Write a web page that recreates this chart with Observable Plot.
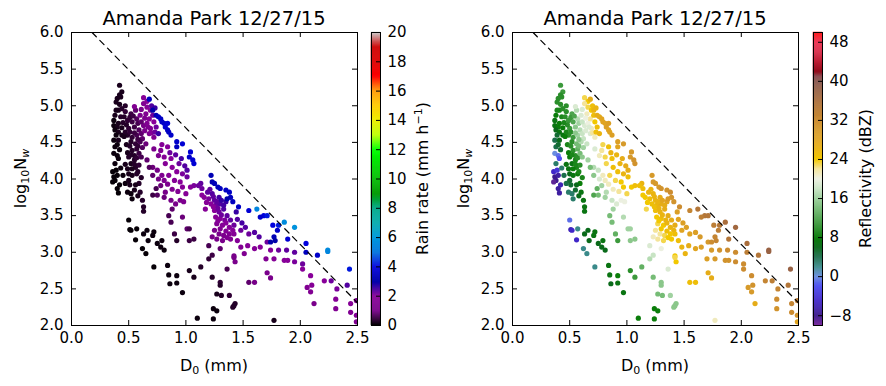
<!DOCTYPE html>
<html><head><meta charset="utf-8">
<script src="https://cdn.jsdelivr.net/npm/d3@7"></script>
<script src="https://cdn.jsdelivr.net/npm/@observablehq/plot@0.6"></script>
<style>
html,body{margin:0;padding:0;background:#fff;}
#fig{position:relative;width:886px;height:386px;background:#fff;overflow:hidden;font-family:"DejaVu Sans",sans-serif;}
#fig svg{position:absolute;top:0;overflow:visible;}
</style></head><body><div id="fig"></div>
<script>
// Each point: [D0 (mm), log10 Nw, rain rate (mm/h), reflectivity (dBZ)]
const leftColumn = [
[0.42,5.28,0.2,11],[0.44,5.19,0.2,11],[0.42,5.15,0.2,10],[0.40,5.10,0.2,10],[0.43,5.12,0.2,10],
[0.39,5.05,0.2,10],[0.42,5.02,0.2,10],
[0.39,4.94,0.2,9],[0.41,4.94,0.2,9],[0.44,4.96,0.3,10],[0.38,4.87,0.2,8],[0.43,4.85,0.3,9],
[0.37,4.80,0.1,7],[0.44,4.70,0.2,8],[0.44,4.60,0.2,7],
[0.37,4.73,0.1,7],[0.40,4.71,0.2,8],[0.41,4.76,0.2,8],[0.38,4.67,0.1,6],[0.41,4.64,0.2,7],
[0.39,4.60,0.1,5],[0.37,4.53,0.1,4],[0.41,4.53,0.2,6],[0.38,4.44,0.1,4],[0.40,4.47,0.1,5],[0.42,4.40,0.1,5],
[0.37,4.35,0.1,0],[0.40,4.32,0.1,-1],[0.41,4.28,0.1,-2],[0.38,4.21,0.1,3],
[0.36,4.10,0.05,-5],[0.39,4.12,0.05,-4],[0.43,4.15,0.1,3],[0.42,3.92,0.05,-6],
[0.37,4.03,0.05,-8],[0.40,4.05,0.05,-7],[0.38,3.98,0.05,-8],[0.36,3.96,0.05,-9],
[0.40,3.87,0.05,-7],[0.41,3.81,0.05,-7],[0.47,3.94,0.1,4],[0.50,4.07,0.2,6],[0.49,4.14,0.2,7],[0.52,4.21,0.2,7]
];
const darkCluster = [
[0.47,4.92,0.4,10],[0.52,4.89,0.5,12],[0.56,4.94,0.8,17],[0.55,4.99,1.5,19],
[0.49,4.80,0.4,11],[0.53,4.78,0.5,12],[0.57,4.82,0.7,17],[0.60,4.87,1.2,19],
[0.50,4.69,0.4,11],[0.55,4.71,0.5,15],[0.59,4.67,0.7,17],[0.63,4.73,1.0,19],
[0.49,4.60,0.3,10],[0.53,4.57,0.4,11],[0.57,4.60,0.6,16],[0.62,4.55,0.8,18],
[0.52,4.51,0.3,10],[0.56,4.48,0.4,14],[0.60,4.51,0.6,17],[0.65,4.48,0.9,18],
[0.53,4.39,0.3,10],[0.57,4.41,0.4,13],[0.55,4.32,0.3,10],[0.59,4.35,0.5,14],
[0.50,4.30,0.3,8],[0.55,4.26,0.3,9],[0.56,4.16,0.3,9],[0.53,4.14,0.2,8],[0.59,4.19,0.4,10],
[0.50,3.98,0.2,5],[0.53,4.05,0.2,7],[0.57,4.07,0.3,8],
[0.49,3.82,0.1,3],[0.52,3.80,0.1,3],[0.55,3.85,0.2,5],[0.53,3.73,0.1,3],
[0.59,3.94,0.3,8],[0.60,3.82,0.3,7],[0.62,3.71,0.3,7],[0.63,3.62,0.3,7],[0.63,3.56,0.3,7],
[0.46,4.85,0.3,10],[0.48,4.74,0.3,10],[0.51,4.84,0.4,11],[0.54,4.86,0.5,12],[0.58,4.76,0.6,16],
[0.61,4.78,0.8,18],[0.47,4.64,0.3,9],[0.51,4.64,0.4,10],[0.55,4.63,0.5,15],[0.58,4.54,0.5,15],
[0.61,4.62,0.8,18],[0.48,4.47,0.2,9],[0.51,4.45,0.3,10],[0.58,4.45,0.4,14],[0.62,4.43,0.7,16],
[0.49,4.36,0.2,8],[0.52,4.33,0.3,9],[0.57,4.29,0.4,10],[0.61,4.30,0.6,15],[0.47,4.20,0.2,7],
[0.55,4.20,0.3,9],[0.58,4.10,0.3,9],[0.61,4.02,0.3,9],[0.51,3.92,0.2,5],[0.56,3.92,0.2,6],
[0.58,3.77,0.2,6],[0.45,4.05,0.1,4],[0.46,4.58,0.2,8],[0.45,4.77,0.3,9],[0.47,5.00,0.3,10]
];
const purpleTop = [
[0.63,5.11,1.8,23],[0.66,5.06,2.0,24],[0.63,5.03,1.6,22],
[0.66,4.98,1.8,23],[0.69,4.94,2.0,24],[0.65,4.89,1.6,21],
[0.68,4.82,1.8,22],[0.71,4.87,2.2,25],[0.72,4.78,2.0,24],
[0.66,4.76,1.5,20],[0.69,4.69,1.6,21],[0.74,4.71,2.2,25],
[0.68,4.62,1.4,19],[0.72,4.57,1.6,21],
[0.61,4.95,1.3,19],[0.64,4.83,1.4,20],[0.67,4.71,1.4,19],[0.70,4.63,1.7,22],[0.73,4.64,2.2,25],
[0.76,4.62,2.6,26],[0.64,4.66,1.2,19],[0.70,5.00,2.4,25],[0.73,4.97,2.6,26]
];
const blueTop = [
[0.68,5.09,3.4,27],[0.71,4.94,3.0,26],[0.74,4.87,3.2,27],[0.76,4.85,3.5,27],[0.78,4.82,3.5,28],
[0.79,4.78,3.6,28],[0.81,4.76,3.6,28],[0.82,4.71,3.8,29],[0.84,4.76,3.8,29],
[0.84,4.67,3.5,28],[0.85,4.64,3.5,28],[0.87,4.60,3.6,29],
[0.92,4.51,3.6,29],[0.97,4.48,3.8,30],[0.92,4.44,3.4,28],
[1.04,4.37,3.8,30],[1.03,4.30,3.6,30],[1.06,4.26,3.8,31],[1.07,4.21,3.8,31]
];
const purpleMid = [
[0.72,4.41,1.2,19],[0.78,4.39,1.6,22],[0.84,4.44,2.0,25],
[0.76,4.32,1.4,21],[0.81,4.30,1.8,23],[0.87,4.28,2.0,25],
[0.82,4.21,1.8,23],[0.88,4.16,2.0,25],[0.94,4.21,2.2,26],
[0.92,4.10,2.0,25],[0.97,4.07,2.1,26],[1.01,4.12,2.4,27],
[0.85,4.05,1.8,23],[0.90,3.98,1.8,23],[0.95,3.96,2.0,24],[1.01,4.03,2.2,25],
[0.81,3.98,1.4,21],[0.76,4.00,1.0,19],
[0.71,4.16,0.9,17],[0.71,4.05,0.8,15],[0.75,4.12,1.0,18],
[0.66,4.26,0.8,16],[0.68,4.16,0.7,14],
[0.74,3.87,0.6,13],[0.78,3.91,0.9,16],[0.82,3.82,1.0,17],
[0.71,3.78,0.5,12],[0.75,3.78,0.7,14],[0.81,3.75,0.9,16],
[0.87,3.71,1.0,18],[0.91,3.66,1.1,19],[0.95,3.71,1.3,20],[0.98,3.69,1.4,20],
[1.00,3.80,1.8,23],[1.04,3.89,2.0,24],[1.07,3.91,2.1,25],[1.13,3.94,2.3,26],
[0.88,3.59,0.8,16],[0.85,3.50,0.6,14],[0.87,3.41,0.6,14],
[0.97,3.48,0.9,17],[0.90,3.25,0.5,13],[1.01,3.32,0.8,16],
[0.79,4.47,1.8,23],[0.86,4.36,2.2,26],[0.91,4.33,2.3,26],[0.96,4.28,2.5,27],[0.99,4.18,2.4,27],
[0.79,4.05,1.4,21],[0.88,3.86,1.5,21],[0.93,3.83,1.6,22],[0.97,3.89,1.9,24],[0.84,3.93,1.4,21]
];
const purpleMass = [
[1.11,3.91,2.2,25],[1.14,3.87,2.2,25],[1.19,3.82,2.3,26],[1.23,3.80,2.4,26],
[1.16,3.75,2.0,24],[1.20,3.73,2.1,25],[1.25,3.71,2.3,26],[1.29,3.75,2.5,27],
[1.22,3.66,2.0,25],[1.26,3.64,2.2,26],[1.30,3.66,2.4,27],[1.35,3.69,2.6,28],
[1.17,3.59,1.8,23],[1.25,3.57,2.0,25],[1.29,3.55,2.2,26],[1.33,3.59,2.4,27],
[1.26,3.48,1.8,24],[1.30,3.46,2.0,25],[1.36,3.50,2.3,27],[1.39,3.44,2.3,27],
[1.27,3.39,1.6,23],[1.32,3.37,1.8,24],[1.38,3.34,2.0,26],[1.42,3.37,2.2,27],
[1.25,3.30,1.2,22],[1.29,3.25,1.2,22],[1.33,3.23,1.3,23],[1.38,3.25,1.5,24],
[1.23,3.21,1.0,21],[1.27,3.18,1.1,22],[1.32,3.16,1.2,23],[1.39,3.18,1.5,24],
[1.21,3.86,2.3,26],[1.24,3.76,2.3,26],[1.27,3.69,2.3,26],[1.31,3.71,2.6,28],[1.33,3.64,2.5,27],
[1.24,3.62,2.0,25],[1.28,3.60,2.2,26],[1.31,3.51,2.2,26],[1.34,3.44,2.1,26],[1.28,3.43,1.8,24],
[1.35,3.40,2.0,26],[1.30,3.32,1.6,24],[1.35,3.29,1.7,25],[1.41,3.30,2.0,26],[1.36,3.20,1.5,24],
[1.18,3.68,1.9,24],[1.14,3.78,2.0,24],[1.45,3.45,2.4,28],[1.49,3.40,2.5,29],[1.44,3.55,2.6,29],
[1.42,3.25,1.8,25],[1.45,3.16,1.8,25],[1.48,3.30,2.2,28],
[1.52,3.34,2.4,29],[1.55,3.25,2.2,28],[1.60,3.27,2.4,29],[1.64,3.21,2.4,30],
[1.48,3.07,1.6,26],[1.54,3.09,1.8,27],[1.60,3.05,1.8,28],[1.65,3.07,2.0,29],
[1.42,2.95,1.2,24],[1.51,2.98,1.5,26],[1.43,2.87,1.2,24],
[1.71,3.14,2.2,30],[1.74,3.03,2.0,30],[1.81,3.03,2.2,31],[1.86,2.89,2.0,31],
[1.89,2.89,2.0,31],[1.95,2.87,2.1,32],[2.02,2.84,2.2,32],[2.02,2.77,2.0,32],
[1.77,2.91,1.8,30],[1.70,2.91,1.6,29],
[2.06,2.52,1.6,30],[2.10,2.55,1.8,31],[2.09,2.46,1.6,30],[2.12,2.30,1.2,27],
[2.09,2.68,2.0,32],[2.21,2.61,2.0,33],[2.32,2.50,2.1,33],[2.31,2.36,1.8,32],[2.31,2.23,1.6,31],
[2.41,2.55,2.4,35],[2.44,2.30,1.8,33],[2.44,2.18,1.6,32],[2.49,2.05,1.4,28],[2.49,2.14,1.6,31],
[2.27,2.61,2.2,34],[1.60,2.59,1.0,25],[1.55,2.59,0.8,25],[1.71,2.72,1.2,27],[1.74,2.65,1.2,27],
[1.88,3.03,2.3,32],[1.95,3.00,2.3,32]
];
const blueDiagonal = [
[1.22,4.05,3.2,30],[1.23,3.96,3.2,30],[1.25,3.94,3.3,30],[1.28,3.89,3.3,30],
[1.30,3.87,3.4,31],[1.35,3.85,3.5,31],[1.38,3.82,3.5,32],[1.39,3.75,3.4,31],
[1.36,3.73,3.0,30],[1.41,3.69,3.4,31],[1.46,3.62,3.5,32],
[1.55,3.57,3.8,33],[1.62,3.59,5.4,35],[1.68,3.50,4.0,35],[1.71,3.50,4.2,35],
[1.65,3.48,3.6,34],[1.76,3.37,4.0,34],[1.81,3.37,4.2,35],[1.86,3.41,5.6,36],
[1.77,3.21,3.2,33],[1.78,3.16,3.0,33],[1.74,3.14,3.0,32],[1.80,3.30,3.6,34],
[1.95,3.34,5.8,37],[1.89,3.18,3.8,35],[2.05,3.12,4.0,36],[2.05,3.00,3.4,34],
[2.15,2.96,3.6,35],[2.24,3.03,5.6,38],[2.24,3.01,5.4,38],[2.43,2.77,4.2,38],
[2.49,2.34,1.6,34]
];
const lowScatter = [
[0.50,3.44,0.05,-1],[0.51,3.31,0.05,-6],[0.52,3.30,0.05,-5],[0.56,3.17,0.05,-5],
[0.57,3.32,0.05,2],[0.63,3.25,0.1,6],[0.66,3.30,0.1,6],[0.67,3.16,0.1,6],
[0.71,3.23,0.1,7],[0.72,3.28,0.1,7],[0.75,3.12,0.1,6],[0.79,3.16,0.1,7],
[0.78,3.07,0.1,6],[0.81,3.03,0.1,6],[0.62,3.05,0.05,2],[0.65,2.98,0.05,2],
[0.72,2.80,0.05,2],[0.84,2.82,0.1,7],[0.85,2.69,0.1,7],[0.86,2.57,0.1,6],
[0.92,2.68,0.1,8],[0.92,2.58,0.1,7],[0.97,2.45,0.1,7],
[0.92,3.16,0.3,11],[1.03,3.16,0.5,15],[1.07,3.18,0.5,15],[1.03,3.32,0.6,16],
[1.03,2.75,0.2,10],[1.07,2.66,0.2,11],[1.13,2.80,0.3,13],
[1.10,2.10,0.1,8],[1.24,2.09,0.1,8],
[1.24,2.23,0.1,8],[1.27,2.20,0.1,8],[1.23,2.66,0.3,14],[1.30,2.59,0.4,15],
[1.27,2.43,0.2,14],[1.31,2.41,0.3,14],[1.30,2.55,0.3,15],[1.38,2.41,0.4,16],
[1.42,2.27,0.3,15],[1.43,2.30,0.3,15],[1.41,2.25,0.3,15],
[1.20,2.91,0.4,17],[1.23,2.96,0.5,18],[1.30,3.05,0.8,20],[1.36,2.77,0.6,19],
[1.42,2.93,1.0,23],[1.77,2.07,0.2,21],[1.20,3.09,0.6,19]
];
// dashed reference line endpoints [D0, log10Nw]
const refLine = [[0.18,6.0],[2.5,2.31]];

const xTicks = [0,0.5,1.0,1.5,2.0,2.5];
const yTicks = [2.0,2.5,3.0,3.5,4.0,4.5,5.0,5.5,6.0];
const rainTicks = [0,2,4,6,8,10,12,14,16,18,20];
const dbzTicks = [-8,0,8,16,24,32,40,48];
const titleText = "Amanda Park 12/27/15";

// colormaps (style)
const nipyPos = [0,0.05,0.1,0.15,0.2,0.25,0.3,0.35,0.4,0.45,0.5,0.55,0.6,0.65,0.7,0.75,0.8,0.85,0.9,0.95,1];
const nipyR = [0,0.4667,0.5333,0,0,0,0,0,0,0,0,0,0,0.7333,0.9333,1,1,1,0.8667,0.8,0.8];
const nipyG = [0,0,0,0,0,0.4667,0.6,0.6667,0.6667,0.6,0.7333,0.8667,1,1,0.9333,0.8,0.6,0,0,0,0.8];
const nipyB = [0,0.5333,0.6,0.6667,0.8667,0.8667,0.8667,0.6667,0.5333,0,0,0,0,0,0,0,0,0,0,0,0.8];
const nipyCols = nipyPos.map((_, i) => d3.rgb(nipyR[i]*255, nipyG[i]*255, nipyB[i]*255).formatHex());
const nipy = d3.scaleLinear().domain(nipyPos).range(nipyCols).clamp(true);
const dbzStops = [-10,-8,-5,-2,0,2,4,6,8,10,12,14,16,18,20,22,24,26,28,30,32,34,36,38,40,41,42,44,46,48,50];
const dbzCols = ["#7b2d9f","#3d1a8c","#4026c8","#5050f0","#6a8ee0","#3a8a8a","#1a6e4a","#0a6a1a","#0a7d0a","#2a8e2a","#4ea44e","#76bc76","#a0d2a0","#c8e4c4","#ecf0e0","#f4e49a","#f2c800","#eab410","#e0a420","#d69a2a","#cc8c30","#bc7e36","#aa6e3c","#986244","#8a5a52","#8c4a50","#900818","#b81028","#d82a48","#ee3050","#ff1a1a"];
const dbzMap = d3.scaleLinear().domain(dbzStops).range(dbzCols).clamp(true);

const allPoints = [...leftColumn, ...darkCluster, ...purpleTop, ...blueTop, ...purpleMid, ...purpleMass, ...blueDiagonal, ...lowScatter];

const fig = document.getElementById("fig");
const H = 386, MT = 32, MB = 61, FH = H - MT - MB;
const FONT = "DejaVu Sans";

function addText(svg, attrs, parts) {
  const t = d3.select(svg).append("text").attr("fill", "black").attr("font-family", FONT);
  for (const [k, v] of Object.entries(attrs)) t.attr(k, v);
  for (const p of parts) {
    const s = t.append("tspan").text(p.t).attr("font-size", p.size);
    if (p.dy) s.attr("dy", p.dy);
    if (p.italic) s.attr("font-style", "italic");
  }
  return t;
}

function panel(o) {
  const colorOpts = {type: "linear", domain: o.cbDomain, interpolate: o.interp};
  const FW = o.mainW - o.mL - o.mR;
  const main = Plot.plot({
    width: o.mainW, height: H, marginLeft: o.mL, marginRight: o.mR, marginTop: MT, marginBottom: MB,
    style: {background: "transparent", fontFamily: FONT, fontSize: "15px", color: "black", overflow: "visible"},
    x: {domain: [0, 2.5]}, y: {domain: [2, 6]}, color: colorOpts,
    marks: [
      Plot.dot(allPoints, {x: d => d[0], y: d => d[1], fill: d => d[o.vi], r: 2.6, clip: true}),
      Plot.line(refLine, {x: d => d[0], y: d => d[1], stroke: "black", strokeWidth: 1.2, strokeDasharray: "6,5", clip: true}),
      Plot.frame({stroke: "black"}),
      Plot.ruleX(xTicks, {x: d => d, insetTop: FH - 5, stroke: "black"}),
      Plot.ruleX(xTicks, {x: d => d, insetBottom: FH - 5, stroke: "black"}),
      Plot.ruleY(yTicks, {y: d => d, insetRight: FW - 5, stroke: "black"}),
      Plot.ruleY(yTicks, {y: d => d, insetLeft: FW - 5, stroke: "black"}),
      Plot.axisX({ticks: xTicks, tickSize: 0, tickPadding: 7, tickFormat: d => d.toFixed(1), label: null, fontSize: 15}),
      Plot.axisY({ticks: yTicks, tickSize: 0, tickPadding: 8, tickFormat: d => d.toFixed(1), label: null, fontSize: 15})
    ]
  });
  main.style.left = o.left + "px";
  fig.appendChild(main);
  const cx = o.mL + FW / 2;
  addText(main, {x: cx, y: 25, "text-anchor": "middle"}, [{t: titleText, size: 19.5}]);
  addText(main, {x: cx, y: 371, "text-anchor": "middle"}, [{t: "D", size: 16}, {t: "0", size: 11, dy: 3}, {t: " (mm)", size: 16, dy: -3}]);
  addText(main, {transform: `translate(26,178.5) rotate(-90)`, "text-anchor": "middle"},
    [{t: "log", size: 16}, {t: "10", size: 11, dy: 3}, {t: "N", size: 16, dy: -3}, {t: "w", size: 11, dy: 3, italic: true}]);

  const step = (o.cbDomain[1] - o.cbDomain[0]) / 300;
  const bands = d3.range(300).map(i => o.cbDomain[0] + i * step);
  const cb = Plot.plot({
    width: o.cbW, height: H, marginLeft: o.cbML, marginRight: o.cbW - o.cbML - 9, marginTop: MT, marginBottom: MB,
    style: {background: "transparent", fontFamily: FONT, fontSize: "15px", color: "black", overflow: "visible"},
    y: {domain: o.cbDomain}, color: colorOpts,
    marks: [
      Plot.barY(bands, {y1: d => d, y2: d => d + step, fill: d => d + step / 2, stroke: d => d + step / 2, strokeWidth: 0.5}),
      Plot.frame({stroke: "black"}),
      Plot.ruleY(o.cbTicks, {y: d => d, insetLeft: 5, stroke: "black"}),
      Plot.axisY({ticks: o.cbTicks, anchor: "right", tickSize: 0, tickPadding: 7, label: null, fontSize: 15,
        tickFormat: d => String(d).replace("-", "\u2212")})
    ]
  });
  cb.style.left = o.cbLeft + "px";
  fig.appendChild(cb);
  addText(cb, {transform: `translate(${o.cbLabelX},178.5) rotate(-90)`, "text-anchor": "middle"}, o.cbLabel);
}

panel({left: 0, mainW: 365, mL: 71, mR: 8, cbLeft: 365, cbW: 78, cbML: 6, cbLabelX: 63,
  vi: 2, cbDomain: [0, 20], interp: t => nipy(t), cbTicks: rainTicks,
  cbLabel: [{t: "Rain rate (mm h", size: 16}, {t: "\u22121", size: 11, dy: -6}, {t: ")", size: 16, dy: 6}]});
panel({left: 443, mainW: 362, mL: 69, mR: 7, cbLeft: 805, cbW: 81, cbML: 8, cbLabelX: 66,
  vi: 3, cbDomain: [-10, 50], interp: t => dbzMap(-10 + 60 * t), cbTicks: dbzTicks,
  cbLabel: [{t: "Reflectivity (dBZ)", size: 16}]});
</script></body></html>
